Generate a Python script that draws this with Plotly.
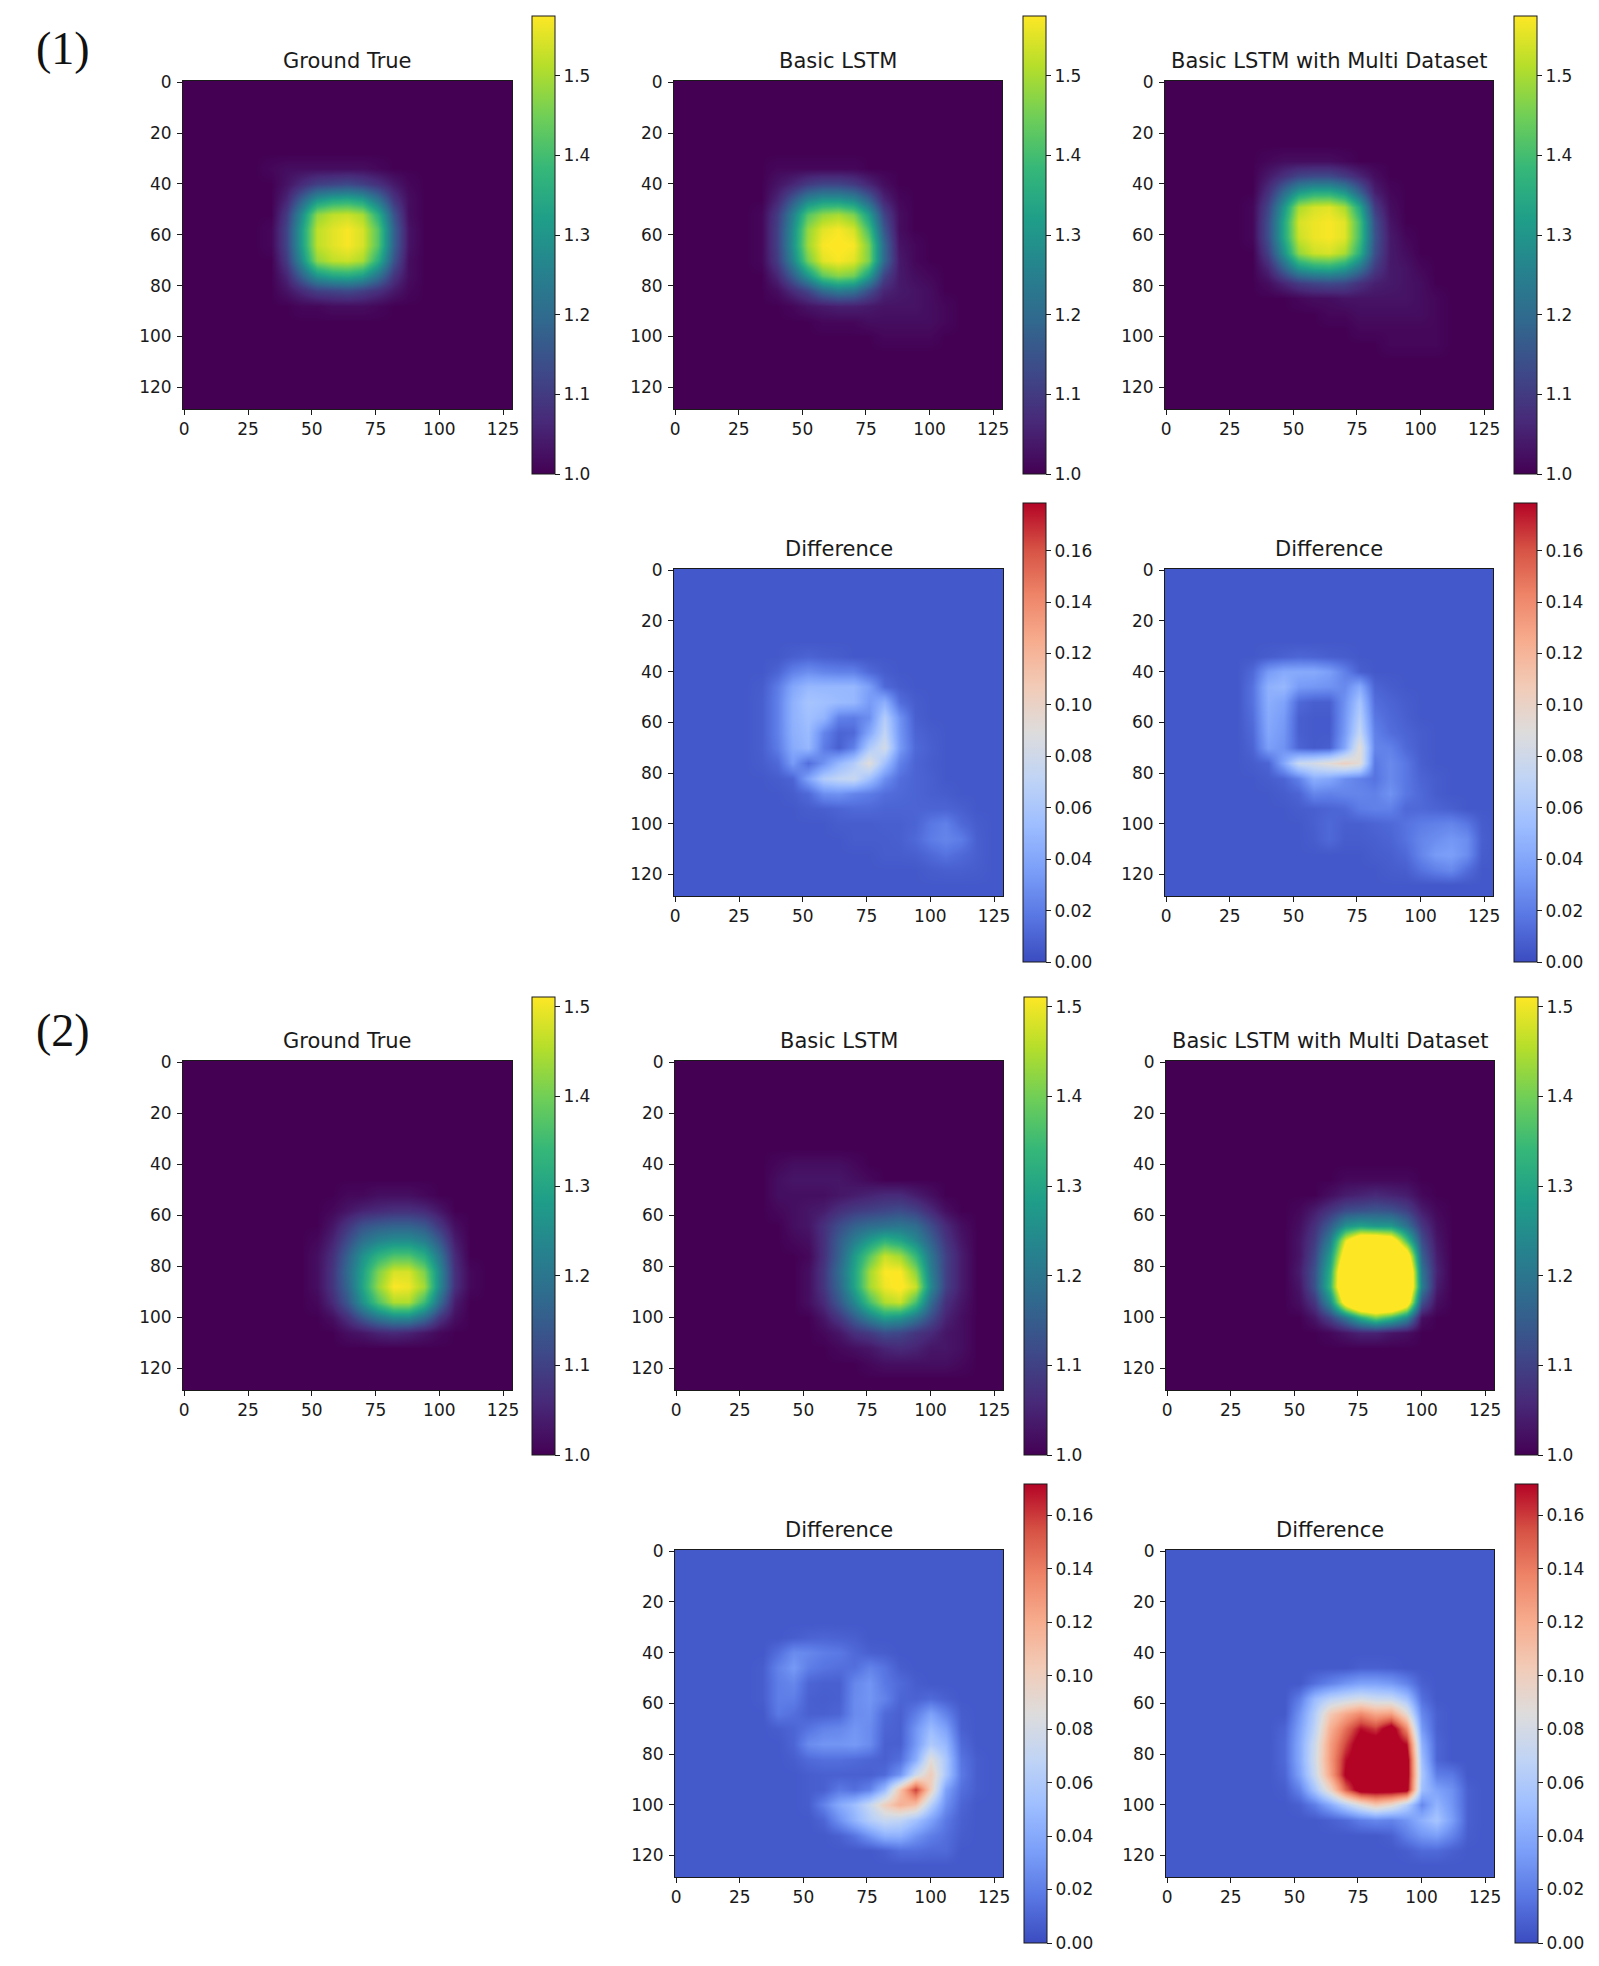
import plotly.graph_objects as go

W, H = 1599, 1966
# Value grids. Rows: image rows 28,34,...,124. Columns: 28,34,...,124.
# Short rows continue with the panel's background value.
GRID = [28, 34, 40, 46, 52, 58, 64, 70, 76, 82, 88, 94, 100, 106, 112, 118, 124]
BINS = [-0.5] + [25 + 6 * i for i in range(17)] + [127, 128.5]
X_TICKS = [0, 25, 50, 75, 100, 125]
Y_TICKS = [0, 20, 40, 60, 80, 100, 120]
VIR_TICKS = [1.0, 1.1, 1.2, 1.3, 1.4, 1.5]
DIFF_TICKS = [0, 0.02, 0.04, 0.06, 0.08, 0.10, 0.12, 0.14, 0.16]

true_1 = [[], [100,101,102,102,102,102,102,102,101],
 [100,100,103,107,111,112,113,111,108,104,101],
 [100,100,106,118,130,134,135,132,122,109,102],
 [100,100,110,128,148,152,153,150,136,115,102],
 [100,101,112,132,152,155,157,154,142,118,103],
 [100,101,112,132,152,155,157,154,142,118,103],
 [100,100,110,128,148,152,153,150,136,115,102],
 [100,100,106,118,130,134,135,132,122,109,102],
 [100,100,103,107,111,112,113,111,108,104,101],
 [100,100,100,101,101,102,102,102,101,100],
 [],[],[],[],[],[]]
lstm_1 = [[], [100,100,101,101,101,101,101,101],
 [100,100,103,106,110,112,112,110,106,102,100],
 [100,100,106,116,126,130,130,127,118,106,101],
 [100,101,110,125,142,148,150,146,132,112,102],
 [100,101,111,128,148,155,157,154,140,116,102,100],
 [100,101,111,129,149,157,158,157,146,120,103,101],
 [100,101,110,126,145,155,157,155,146,120,104,101],
 [100,100,106,117,130,143,147,145,132,112,104,102,101],
 [100,100,102,107,112,120,124,122,114,106,104,103,102],
 [100,100,100,101,103,104,105,105,104,103,103,103,102,101],
 [100,100,100,100,100,101,101,101,102,102,102,102,102,101],
 [100,100,100,100,100,100,100,100,100,101,101,101,101],
 [],[],[],[]]
multi_1 = [[], [100,100,101,102,102,102,102,101,100],
 [100,100,104,108,112,113,113,110,106,102],
 [100,100,108,120,131,135,135,130,118,105,101],
 [100,101,112,130,150,154,155,150,134,110,102],
 [100,101,114,134,154,156,157,155,140,114,103,100],
 [100,101,114,134,153,156,157,155,140,115,104,101],
 [100,100,111,129,148,153,154,150,136,114,104,102],
 [100,100,106,118,130,134,135,131,122,110,104,103,101],
 [100,100,102,106,110,112,113,112,108,105,104,103,102],
 [100,100,100,100,101,102,102,103,103,103,103,103,102,101],
 [100,100,100,100,100,100,101,101,102,102,102,102,102,101],
 [100,100,100,100,100,100,100,100,101,101,101,101,101,101],
 [100,100,100,100,100,100,100,100,100,100,101,101,101,101],
 [],[],[],[]]
diff_1a = [[5],
 [5,5,5,8,10,8,7,5,5],
 [5,5,10,22,28,24,22,22,12,7],
 [5,7,20,40,50,50,50,50,36,12,7],
 [5,8,22,46,58,55,52,50,34,45,14,7],
 [5,8,22,46,55,48,22,20,28,65,30,8],
 [5,8,22,45,52,24,10,12,40,72,32,10,7],
 [5,8,20,42,50,20,8,22,62,82,34,12,8],
 [5,7,12,34,14,30,50,64,90,55,22,10,7],
 [5,5,7,10,38,64,72,76,55,28,14,10,8],
 [5,5,5,7,12,28,30,24,20,14,12,10,8,7],
 [5,5,5,5,7,8,10,12,12,10,10,10,10,10,8],
 [5,5,5,5,5,5,7,7,7,8,8,10,18,22,12,7],
 [5,5,5,5,5,5,5,7,7,7,8,12,20,24,20,8],
 [5,5,5,5,5,5,5,5,5,7,7,8,12,16,12,8],
 [5,5,5,5,5,5,5,5,5,5,5,5,7,8,8,7],
 []]
diff_1b = [[5],
 [5,5,7,9,11,10,8,7],
 [5,12,34,42,42,42,36,22,8],
 [5,16,46,50,34,32,30,26,42,10,7],
 [5,16,44,38,12,8,8,30,58,14,10,7],
 [5,14,42,34,8,6,6,32,66,18,12,8],
 [5,12,40,32,8,6,6,34,74,22,14,10,7],
 [5,10,36,30,10,6,8,40,92,24,22,12,7],
 [5,7,10,40,76,82,92,102,92,18,26,18,8],
 [5,5,7,10,22,44,40,28,22,16,26,18,10,7],
 [5,5,5,7,10,24,22,24,24,22,30,18,12,7],
 [5,5,5,5,7,8,10,12,20,22,22,12,12,10,8],
 [5,5,5,5,5,8,12,8,8,10,12,16,20,22,24,18,7],
 [5,5,5,5,5,7,12,7,7,8,10,16,24,28,32,28,8],
 [5,5,5,5,5,5,5,5,5,7,8,12,24,34,36,28,7],
 [5,5,5,5,5,5,5,5,5,5,7,8,16,22,26,14],
 []]
true_2 = [[],[],[],[],
 [100,100,100,100,100,100,101,101,102,102,102,101],
 [100,100,100,100,100,101,103,105,106,107,107,106,103],
 [100,100,100,100,100,103,108,113,115,116,116,114,108,102],
 [100,100,100,100,101,105,112,119,123,125,125,122,114,104],
 [100,100,100,100,102,107,116,126,133,137,137,132,120,106,100],
 [100,100,100,100,102,108,118,129,141,148,148,141,124,107,101],
 [100,100,100,100,102,108,117,130,143,151,150,144,124,107,101],
 [100,100,100,100,101,106,114,126,137,145,145,135,118,104],
 [100,100,100,100,100,102,107,114,120,124,124,118,108,102],
 [100,100,100,100,100,100,102,103,105,106,105,103,101],
 [],[],[]]
lstm_2 = [[],[],
 [100,100,101,102,102,102,102,101],
 [100,100,102,103,103,103,103,102,101],
 [100,100,102,102,102,102,103,104,105,106,106,104,102],
 [100,100,101,102,103,104,107,109,110,111,112,110,106,102],
 [100,100,100,102,103,107,112,116,118,119,120,118,112,106,102],
 [100,100,100,101,102,107,115,122,128,133,130,124,116,108,103],
 [100,100,100,100,101,107,116,128,138,147,144,134,120,110,104],
 [100,100,100,100,102,108,118,130,144,151,151,142,122,110,104],
 [100,100,100,100,102,108,117,130,144,150,152,147,124,110,104],
 [100,100,100,100,102,106,114,124,136,145,147,136,118,107,103],
 [100,100,100,100,100,103,108,115,122,128,126,120,112,105,102],
 [100,100,100,100,100,101,103,107,109,112,111,108,106,103,102],
 [100,100,100,100,100,100,101,102,103,105,106,105,103,103,102],
 [100,100,100,100,100,100,100,100,101,102,102,102,102,102,101],
 []]
multi_2 = [[],[],[],
 [100,100,100,100,100,100,100,101,101,101,101,101],
 [100,100,100,100,100,100,102,104,105,106,105,104,101],
 [100,100,100,100,101,104,108,112,113,114,113,110,104,101],
 [100,100,100,100,102,107,115,126,129,127,127,119,108,102],
 [100,100,100,100,103,109,122,150,165,165,160,136,112,103],
 [100,100,100,100,103,111,128,160,175,175,175,160,116,104],
 [100,100,100,100,104,113,132,172,175,175,175,172,120,105],
 [100,100,100,100,103,113,134,172,175,175,175,172,122,104],
 [100,100,100,100,102,108,125,158,175,175,175,160,113,102],
 [100,100,100,100,100,103,110,120,132,140,134,124,102,100],
 [100,100,100,100,100,100,101,103,105,105,103,102,100],
 [],[],[]]
diff_2a = [[5],
 [5,5,5,7,9,10,9,8],
 [5,5,14,26,24,20,18,12,8,7],
 [5,7,22,32,20,16,14,14,22,16,7],
 [5,7,20,24,10,8,8,24,30,18,12,7],
 [5,7,20,20,8,7,8,26,30,22,10,9,12,8],
 [5,5,18,14,8,8,10,26,28,12,8,20,36,22,7],
 [5,5,7,10,16,22,24,30,26,10,8,30,50,36,8],
 [5,5,5,10,26,30,30,32,26,8,8,32,60,48,12],
 [5,5,5,7,12,14,14,12,10,8,14,42,88,58,16,7],
 [5,5,5,5,7,8,8,8,8,12,30,76,102,58,18,7],
 [5,5,5,5,7,8,18,14,22,50,108,160,100,36,14,7],
 [5,5,5,5,7,22,40,52,72,100,118,110,64,28,10],
 [5,5,5,5,5,10,28,46,62,72,68,54,36,18,8],
 [5,5,5,5,5,5,8,16,30,44,44,30,20,14,7],
 [5,5,5,5,5,5,5,5,5,8,14,14,12,12],
 []]
diff_2b = [[5],[5],[5],
 [5,5,5,5,5,5,5,5,8,8,7,5],
 [5,5,5,5,5,14,22,30,36,36,32,22,8],
 [5,5,5,5,20,50,66,74,80,74,72,54,14],
 [5,5,5,5,30,62,104,122,135,122,126,90,24,8],
 [5,5,5,10,36,68,118,145,170,160,185,135,32,8],
 [5,5,5,12,40,76,126,158,185,185,185,170,44,10],
 [5,5,5,12,40,78,128,170,185,185,185,185,52,10],
 [5,5,5,10,36,74,124,175,185,185,185,185,58,20,18],
 [5,5,5,7,22,56,96,150,185,185,185,180,52,36,28,8],
 [5,5,5,5,8,20,40,64,86,105,92,64,24,46,30,8],
 [5,5,5,5,5,5,8,12,20,24,22,30,44,56,34,8],
 [5,5,5,5,5,5,5,5,5,5,8,20,30,34,22,7],
 [5,5,5,5,5,5,5,5,5,5,5,7,12,12,8],
 []]

COOLWARM = [[0.0,"#3b4cc0"],[0.1,"#5977e3"],[0.2,"#7b9ff9"],[0.3,"#9ebeff"],[0.4,"#c0d4f5"],
            [0.5,"#dddcdc"],[0.6,"#f2cbb7"],[0.7,"#f7ac8e"],[0.8,"#ee8468"],[0.9,"#d65244"],[1.0,"#b40426"]]

# title, data, divisor, zmax, background, axes box (l,t,r,b), colour bar box (l,t,r,b)
PANELS = [
 ("Ground True", true_1, 100, 1.575, 100, (183,81,512,409), (532,16,555,474)),
 ("Basic LSTM", lstm_1, 100, 1.575, 100, (674,81,1002,409), (1023,16,1046,474)),
 ("Basic LSTM with Multi Dataset", multi_1, 100, 1.575, 100, (1165,81,1493,409), (1514,16,1537,474)),
 ("Difference", diff_1a, 1000, 0.1785, 5, (674,569,1003,896), (1023,503,1046,962)),
 ("Difference", diff_1b, 1000, 0.1785, 5, (1165,569,1493,896), (1514,503,1537,962)),
 ("Ground True", true_2, 100, 1.511, 100, (183,1061,512,1390), (532,997,555,1455)),
 ("Basic LSTM", lstm_2, 100, 1.511, 100, (675,1061,1003,1390), (1024,997,1047,1455)),
 ("Basic LSTM with Multi Dataset", multi_2, 100, 1.511, 100, (1166,1061,1494,1390), (1515,997,1538,1455)),
 ("Difference", diff_2a, 1000, 0.1717, 5, (675,1550,1003,1877), (1024,1484,1047,1943)),
 ("Difference", diff_2b, 1000, 0.1717, 5, (1166,1550,1494,1877), (1515,1484,1538,1943)),
]

FONT = "DejaVu Sans"
INK = "#1a1a1a"
fig = go.Figure()
annotations = []
layout_axes = {}
for i, (title, rows, div, zmax, bg, box, cb) in enumerate(PANELS):
    n = i + 1
    l, t, r, b = box
    body = [[bg] + (row + [bg] * (len(GRID) - len(row))) + [bg] for row in rows]
    blank = [bg] * (len(GRID) + 2)
    z = [[v / div for v in row] for row in [blank] + body + [blank]]
    viridis = div == 100
    fig.add_trace(go.Heatmap(
        z=z, x=BINS, y=BINS, xaxis=f"x{n}", yaxis=f"y{n}", zsmooth="best",
        zmin=1.0 if viridis else 0.0, zmax=zmax,
        colorscale="Viridis" if viridis else COOLWARM,
        hoverinfo="skip",
        colorbar=dict(
            x=cb[0] / W, xanchor="left", xref="paper", y=1 - cb[1] / H, yanchor="top", yref="paper",
            thicknessmode="pixels", thickness=cb[2] - cb[0], lenmode="pixels", len=cb[3] - cb[1],
            xpad=0, ypad=0, outlinewidth=1, outlinecolor=INK, ticks="outside", ticklen=5, tickwidth=1,
            tickcolor=INK, tickvals=VIR_TICKS if viridis else DIFF_TICKS,
            tickformat=".1f" if viridis else ".2f", tickprefix="\u00a0",
            tickfont=dict(family=FONT, size=17, color=INK)),
    ))
    common = dict(showgrid=False, zeroline=False, showline=True, mirror=True, linecolor=INK, linewidth=1,
                  ticks="outside", ticklen=5, tickwidth=1, tickcolor=INK,
                  tickfont=dict(family=FONT, size=17, color=INK), tickangle=0)
    layout_axes[f"xaxis{n}"] = dict(common, domain=[l / W, r / W], range=[-0.5, 128.5], anchor=f"y{n}",
                                    tickvals=X_TICKS, ticklabelstandoff=0)
    layout_axes[f"yaxis{n}"] = dict(common, domain=[1 - b / H, 1 - t / H], range=[128.5, -0.5], anchor=f"x{n}",
                                    tickvals=Y_TICKS, ticklabelstandoff=2)
    annotations.append(dict(text=title, x=(l + r) / 2 / W, y=1 - (t - 20) / H, xref="paper", yref="paper",
                            xanchor="center", yanchor="middle", showarrow=False,
                            font=dict(family=FONT, size=21, color=INK)))

for label, cy in (("(1)", 49), ("(2)", 1030)):
    annotations.append(dict(text=label, x=63 / W, y=1 - cy / H, xref="paper", yref="paper",
                            xanchor="center", yanchor="middle", showarrow=False,
                            font=dict(family="Liberation Serif", size=46, color="#111111")))

fig.update_layout(width=W, height=H, autosize=False,
                  margin=dict(l=0, r=0, t=0, b=0, autoexpand=False),
                  paper_bgcolor="white", plot_bgcolor="white", annotations=annotations, **layout_axes)
fig.write_html("out.html", config={"displayModeBar": False},
               post_script="document.body.style.margin='0';document.body.style.overflow='hidden';")
